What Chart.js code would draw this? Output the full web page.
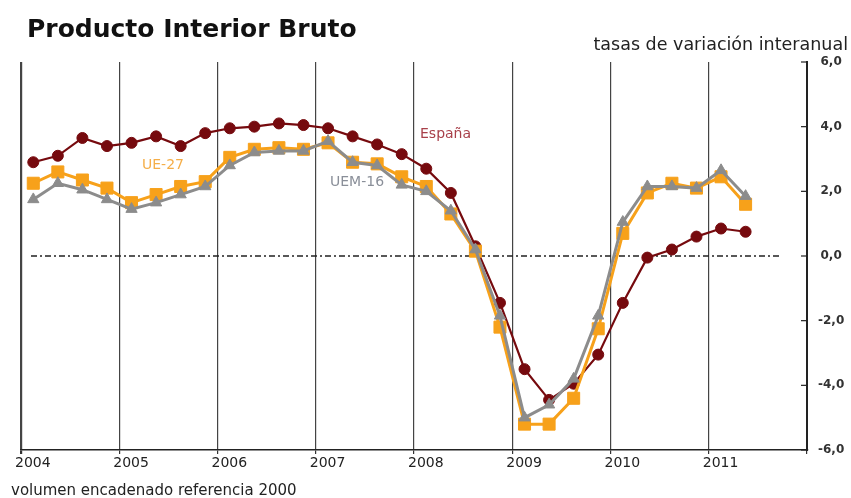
<!DOCTYPE html>
<html>
<head>
<meta charset="utf-8">
<script src="https://cdn.jsdelivr.net/npm/chart.js@4.4.0/dist/chart.umd.min.js"></script>
<style>
  html, body { margin: 0; padding: 0; background: #fff; }
  #wrap { position: relative; width: 851px; height: 498px; }
</style>
</head>
<body>
<div id="wrap"><canvas id="pib"></canvas></div>
<script>
// Quarterly data, 2004 T1 .. 2011 T2 (tasas de variación interanual)
const years = ['2004', '2005', '2006', '2007', '2008', '2009', '2010', '2011'];
const espana = [2.9, 3.1, 3.65, 3.4, 3.5, 3.7, 3.4, 3.8, 3.95, 4.0, 4.1, 4.05, 3.95, 3.7, 3.45, 3.15,
  2.7, 1.95, 0.3, -1.45, -3.5, -4.45, -3.95, -3.05, -1.45, -0.05, 0.2, 0.6, 0.85, 0.75];
const ue27 = [2.25, 2.6, 2.35, 2.1, 1.65, 1.9, 2.15, 2.3, 3.05, 3.3, 3.35, 3.3, 3.5, 2.9, 2.85, 2.45,
  2.15, 1.3, 0.15, -2.2, -5.2, -5.2, -4.4, -2.25, 0.7, 1.95, 2.25, 2.1, 2.45, 1.6];
const uem16 = [1.75, 2.25, 2.05, 1.75, 1.45, 1.65, 1.9, 2.15, 2.8, 3.2, 3.25, 3.25, 3.55, 2.9, 2.8, 2.2,
  2.0, 1.4, 0.2, -1.85, -5.0, -4.6, -3.8, -1.85, 1.05, 2.15, 2.15, 2.1, 2.65, 1.85];

const RED = '#760a0e';
const ORANGE = '#f7a11a';
const GREY = '#8c8c8c';

// each quarter sits in the middle of its slot on a 0..32 quarter axis
const toPoints = arr => arr.map((v, i) => ({ x: i + 0.5, y: v }));

const fmt = v => v.toFixed(1).replace('.', ',');

const extras = {
  id: 'extras',
  beforeDatasetsDraw(chart) {
    const { ctx, chartArea } = chart;
    const y0 = chart.scales.y.getPixelForValue(0);
    ctx.save();
    // dash-dot zero line
    ctx.strokeStyle = '#222';
    ctx.lineWidth = 1.6;
    ctx.setLineDash([6, 3, 2, 3]);
    ctx.beginPath();
    ctx.moveTo(chartArea.left + 10, y0);
    ctx.lineTo(chartArea.right - 26, y0);
    ctx.stroke();
    ctx.setLineDash([]);
    // series labels
    ctx.font = '14px "DejaVu Sans"';
    ctx.textBaseline = 'middle';
    ctx.fillStyle = '#a8404a';
    ctx.fillText('España', 420, 134);
    ctx.fillStyle = '#f5ae48';
    ctx.fillText('UE-27', 142, 165);
    ctx.fillStyle = '#8a8f99';
    ctx.fillText('UEM-16', 330, 182);
    ctx.restore();
  },
  afterDraw(chart) {
    const { ctx, chartArea } = chart;
    const ys = chart.scales.y;
    ctx.save();
    // inward tick marks on the right axis
    ctx.strokeStyle = '#222';
    ctx.lineWidth = 1.2;
    ys.ticks.forEach(t => {
      const p = ys.getPixelForValue(t.value);
      ctx.beginPath();
      ctx.moveTo(chartArea.right - 6, p);
      ctx.lineTo(chartArea.right, p);
      ctx.stroke();
    });
    // titles
    ctx.fillStyle = '#111';
    ctx.textBaseline = 'alphabetic';
    ctx.font = 'bold 25px "DejaVu Sans"';
    ctx.fillText('Producto Interior Bruto', 27, 37);
    ctx.fillStyle = '#222';
    ctx.font = '17.5px "DejaVu Sans"';
    ctx.textAlign = 'right';
    ctx.fillText('tasas de variación interanual', 848, 50);
    ctx.textAlign = 'left';
    ctx.font = '15px "DejaVu Sans"';
    ctx.fillText('volumen encadenado referencia 2000', 11, 495);
    ctx.restore();
  }
};

function series(label, data, color, style, radius, width, order) {
  return {
    label: label,
    data: toPoints(data),
    borderColor: color,
    backgroundColor: color,
    borderWidth: width,
    pointStyle: style,
    pointRadius: radius,
    pointBorderWidth: 1,
    pointBackgroundColor: color,
    pointBorderColor: color,
    tension: 0,
    order: order
  };
}

new Chart(document.getElementById('pib'), {
  type: 'line',
  data: {
    datasets: [
      series('UEM-16', uem16, GREY, 'triangle', 6.5, 3, 0),
      series('UE-27', ue27, ORANGE, 'rect', 8.5, 3, 1),
      series('España', espana, RED, 'circle', 5.5, 2.2, 2)
    ]
  },
  options: {
    responsive: true,
    maintainAspectRatio: false,
    animation: false,
    layout: { padding: { left: 21, right: 0, top: 62, bottom: 0 } },
    plugins: { legend: { display: false }, tooltip: { enabled: false }, title: { display: false } },
    scales: {
      x: {
        type: 'linear',
        min: 0,
        max: 32,
        afterFit: s => { s.height = 48; },
        ticks: {
          stepSize: 4,
          align: 'start',
          labelOffset: -6,
          padding: 1,
          color: '#222',
          font: { family: 'DejaVu Sans', size: 14 },
          callback: v => years[v / 4] || ''
        },
        grid: {
          color: '#444',
          lineWidth: c => (c.tick && c.tick.value === 0 ? 2.2 : 1.2),
          tickLength: 4,
          tickColor: '#333'
        },
        border: { color: '#222', width: 1.5 }
      },
      y: {
        position: 'right',
        min: -6,
        max: 6,
        afterFit: s => { s.width = 44; },
        ticks: {
          stepSize: 2,
          crossAlign: 'center',
          padding: 3,
          color: '#333',
          font: { family: 'DejaVu Sans', size: 12, weight: 'bold' },
          callback: v => fmt(v)
        },
        grid: {
          drawOnChartArea: false,
          tickLength: 8,
          tickColor: 'rgba(0,0,0,0)'
        },
        border: { color: '#222', width: 2 }
      }
    }
  },
  plugins: [extras]
});
</script>
</body>
</html>
